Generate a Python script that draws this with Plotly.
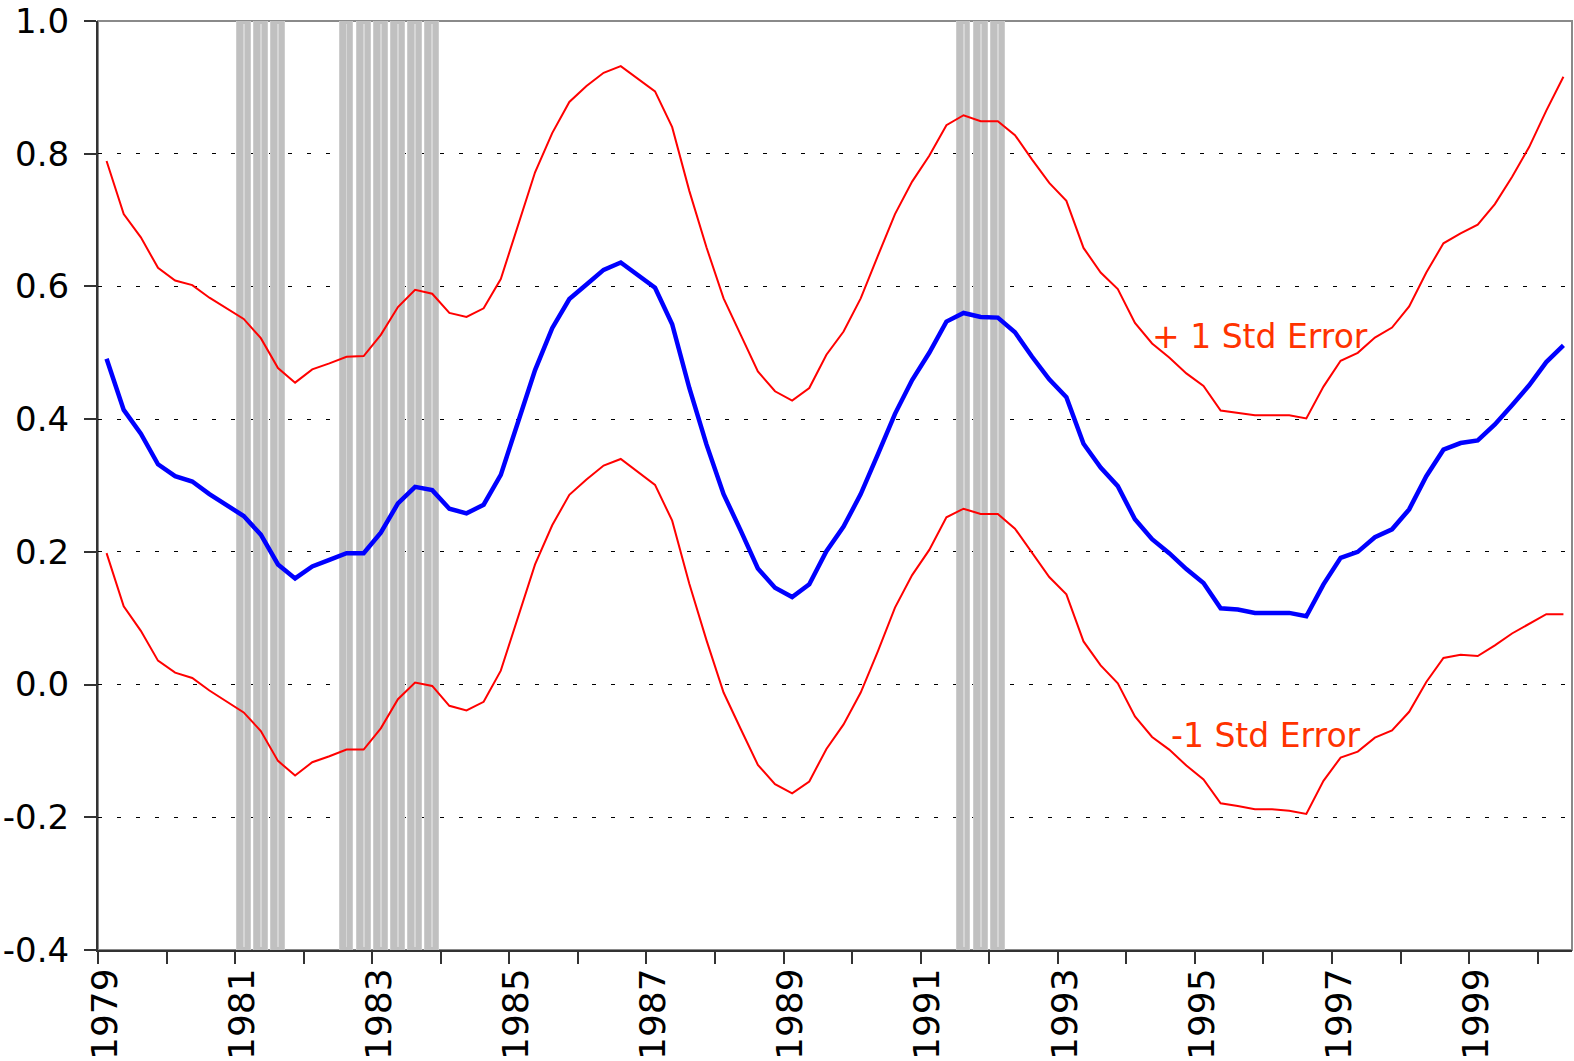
import plotly.graph_objects as go

# ---------------- data ----------------
start_year = 1979
quarters = [f"{start_year + k // 4}Q{k % 4 + 1}" for k in range(86)]  # 1979Q1 .. 2000Q2

estimate = [
    0.491, 0.414, 0.378, 0.332, 0.314, 0.306, 0.287, 0.271, 0.254, 0.226,
    0.181, 0.160, 0.178, 0.188, 0.198, 0.198, 0.229, 0.273, 0.298, 0.293,
    0.265, 0.258, 0.271, 0.316, 0.394, 0.474, 0.537, 0.581, 0.603, 0.625,
    0.636, 0.617, 0.598, 0.543, 0.447, 0.362, 0.287, 0.232, 0.175, 0.146,
    0.132, 0.151, 0.201, 0.238, 0.287, 0.347, 0.408, 0.459, 0.500, 0.547,
    0.560, 0.554, 0.553, 0.531, 0.494, 0.460, 0.433, 0.363, 0.327, 0.299,
    0.249, 0.219, 0.198, 0.174, 0.153, 0.115, 0.113, 0.108, 0.108, 0.108,
    0.103, 0.151, 0.191, 0.200, 0.222, 0.234, 0.264, 0.314, 0.354, 0.364,
    0.368, 0.392, 0.421, 0.451, 0.486, 0.511,
]

upper = [
    0.789, 0.709, 0.674, 0.628, 0.609, 0.602, 0.583, 0.567, 0.551, 0.522,
    0.477, 0.455, 0.475, 0.484, 0.494, 0.495, 0.527, 0.569, 0.595, 0.589,
    0.560, 0.554, 0.567, 0.611, 0.691, 0.772, 0.831, 0.878, 0.902, 0.922,
    0.932, 0.913, 0.894, 0.840, 0.744, 0.659, 0.582, 0.527, 0.472, 0.442,
    0.428, 0.447, 0.497, 0.532, 0.582, 0.646, 0.709, 0.758, 0.797, 0.843,
    0.858, 0.849, 0.849, 0.828, 0.791, 0.756, 0.729, 0.658, 0.621, 0.596,
    0.545, 0.514, 0.493, 0.469, 0.450, 0.413, 0.410, 0.406, 0.406, 0.406,
    0.401, 0.449, 0.488, 0.500, 0.523, 0.538, 0.570, 0.621, 0.665, 0.680,
    0.693, 0.724, 0.765, 0.810, 0.865, 0.916,
]

lower = [
    0.198, 0.118, 0.081, 0.036, 0.018, 0.010, -0.009, -0.025, -0.042, -0.070,
    -0.115, -0.137, -0.117, -0.108, -0.098, -0.098, -0.066, -0.022, 0.003, -0.002,
    -0.032, -0.039, -0.026, 0.021, 0.101, 0.181, 0.240, 0.286, 0.309, 0.330,
    0.340, 0.320, 0.301, 0.247, 0.152, 0.067, -0.012, -0.067, -0.121, -0.150,
    -0.164, -0.146, -0.097, -0.060, -0.012, 0.050, 0.116, 0.165, 0.203, 0.252,
    0.265, 0.257, 0.257, 0.235, 0.199, 0.162, 0.136, 0.065, 0.029, 0.002,
    -0.048, -0.079, -0.098, -0.122, -0.143, -0.179, -0.183, -0.188, -0.188, -0.190,
    -0.195, -0.145, -0.110, -0.101, -0.080, -0.069, -0.041, 0.004, 0.040, 0.045,
    0.043, 0.059, 0.077, 0.092, 0.106, 0.106,
]

shaded_quarters = [
    "1981Q1", "1981Q2", "1981Q3",
    "1982Q3", "1982Q4", "1983Q1", "1983Q2", "1983Q3", "1983Q4",
    "1991Q3", "1991Q4", "1992Q1",
]

tick_years = list(range(1979, 2001))
tick_text = [str(y) if y % 2 == 1 else "" for y in tick_years]
y_ticks = [-0.4, -0.2, 0.0, 0.2, 0.4, 0.6, 0.8, 1.0]
y_text = ["-0.4", "-0.2", "0.0", "0.2", "0.4", "0.6", "0.8", "1.0"]

label_upper = "+ 1 Std Error"
label_lower = "-1 Std Error"


# quarter label -> position on a year axis (middle of the quarter)
def qpos(label):
    yr, q = label.split("Q")
    return int(yr) + (int(q) - 1) / 4 + 0.125


x = [qpos(q) for q in quarters]
xs = [qpos(q) for q in shaded_quarters]

Y_MIN, Y_MAX = -0.4, 1.0
bar_base = Y_MIN - 0.005
bar_top = Y_MAX + 0.005

FONT = "DejaVu Sans"
TXT_RED = "#ff3300"

fig = go.Figure()

# shaded bars
fig.add_trace(go.Bar(
    x=xs, y=[bar_top - bar_base] * len(xs), base=[bar_base] * len(xs),
    width=0.2, marker=dict(color="#c0c0c0", line=dict(color="#cdcdcd", width=1)),
    cliponaxis=False, hoverinfo="skip", showlegend=False,
))
fig.add_trace(go.Bar(
    x=xs, y=[bar_top - bar_base - 0.02] * len(xs), base=[bar_base + 0.01] * len(xs),
    width=0.014, marker=dict(color="#d6d6d6", line=dict(width=0)),
    cliponaxis=False, hoverinfo="skip", showlegend=False,
))

# lines
fig.add_trace(go.Scatter(x=x, y=upper, mode="lines",
                         line=dict(color="#ff0000", width=2), showlegend=False))
fig.add_trace(go.Scatter(x=x, y=lower, mode="lines",
                         line=dict(color="#ff0000", width=2), showlegend=False))
fig.add_trace(go.Scatter(x=x, y=estimate, mode="lines",
                         line=dict(color="#0000ff", width=4.5), showlegend=False))

# labels
fig.add_annotation(x=1995.95, y=0.525, text=label_upper, showarrow=False,
                   xanchor="center", yanchor="middle",
                   font=dict(family=FONT, size=33, color=TXT_RED))
fig.add_annotation(x=1996.03, y=-0.077, text=label_lower, showarrow=False,
                   xanchor="center", yanchor="middle",
                   font=dict(family=FONT, size=33, color=TXT_RED))

# top / right frame
fig.add_shape(type="rect", xref="paper", yref="paper", x0=0, x1=1, y0=0, y1=1,
              line=dict(color="#8a8a8a", width=2), layer="between")

fig.update_layout(
    width=1574, height=1061,
    margin=dict(l=98, r=2, t=21, b=111, autoexpand=False),
    paper_bgcolor="white", plot_bgcolor="white",
    barmode="overlay", bargap=0,
    showlegend=False,
    font=dict(family=FONT, color="black"),
)

fig.update_xaxes(
    range=[1979, 2000.5], automargin=False,
    tickmode="array", tickvals=tick_years, ticktext=tick_text,
    tickangle=-90, tickfont=dict(family=FONT, size=36, color="black"),
    ticks="outside", ticklen=12, tickwidth=1.5, tickcolor="#333333",
    showgrid=False, zeroline=False,
    showline=True, linecolor="#333333", linewidth=2,
    ticklabelstandoff=-10, ticklabelshift=7,
)
fig.update_yaxes(
    range=[Y_MIN, Y_MAX], automargin=False,
    tickmode="array", tickvals=y_ticks, ticktext=y_text,
    tickfont=dict(family=FONT, size=34, color="black"),
    ticks="outside", ticklen=12, tickwidth=1.5, tickcolor="#333333",
    showgrid=True, gridcolor="black", gridwidth=1, griddash="4px,15px",
    zeroline=False,
    showline=True, linecolor="#333333", linewidth=2,
    ticklabelstandoff=8,
)

fig.write_html(
    "out.html",
    config={"displayModeBar": False},
    post_script="document.body.style.margin='0';document.body.style.overflow='hidden';",
)
